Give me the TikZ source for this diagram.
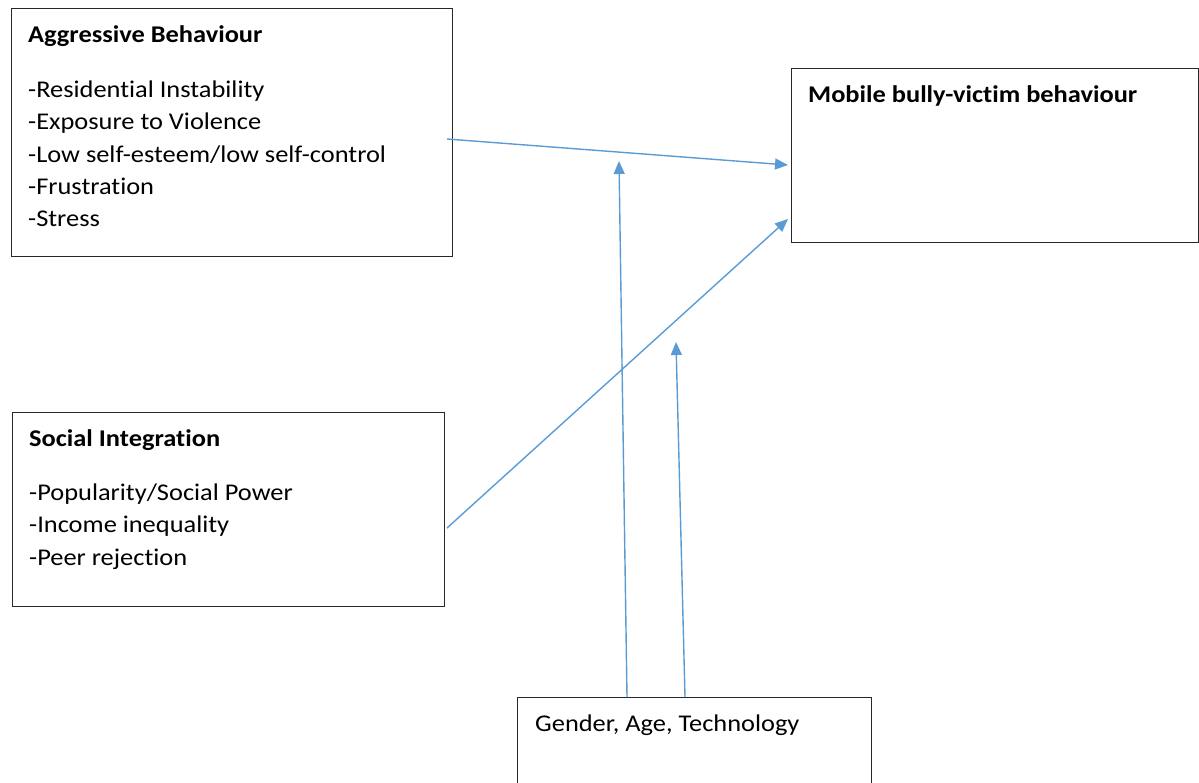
\documentclass[tikz,border=0pt]{standalone}
\usepackage{fontspec}
\setmainfont{Carlito}[FakeStretch=1.1, RawFeature={-liga;-clig;-calt;-dlig}]
\usetikzlibrary{arrows.meta}
\definecolor{linkblue}{RGB}{91,155,213}
\definecolor{framegray}{RGB}{40,40,40}
\tikzset{
  panel/.style={draw=framegray, line width=1.3pt, anchor=north west, inner sep=0pt},
  heading/.style={anchor=base west, inner sep=0pt, font=\fontsize{24}{29}\selectfont\bfseries},
  entry/.style={anchor=base west, inner sep=0pt, font=\fontsize{24}{29}\selectfont},
  link/.style={draw=linkblue, line width=1.4pt, -{Triangle[length=13pt,width=11pt]}}
}
\begin{document}
\begin{tikzpicture}[x=1pt,y=-1pt]
\useasboundingbox (0,0) rectangle (1199,782);
\clip (0,0) rectangle (1199,782);
% frames
\node[panel, minimum width=441pt, minimum height=248pt] (aggr) at (11,8) {};
\node[panel, minimum width=407pt, minimum height=174pt] (mob) at (791,68) {};
\node[panel, minimum width=432pt, minimum height=194pt] (soc) at (12,412) {};
\node[panel, minimum width=354pt, minimum height=110pt] (dem) at (517,697) {};
% aggressive behaviour
\node[heading] (aggrT) at (28,42) {Aggressive Behaviour};
\node[entry] (aggr1) at (28,97)  {-Residential Instability};
\node[entry] (aggr2) at (28,129) {-Exposure to Violence};
\node[entry] (aggr3) at (28,162) {-Low self-esteem/low self-control};
\node[entry] (aggr4) at (28,194) {-Frustration};
\node[entry] (aggr5) at (28,226) {-Stress};
% outcome
\node[heading] (mobT) at (808,102) {Mobile bully-victim behaviour};
% social integration
\node[heading] (socT) at (29,446) {Social Integration};
\node[entry] (soc1) at (29,500) {-Popularity/Social Power};
\node[entry] (soc2) at (29,532) {-Income inequality};
\node[entry] (soc3) at (29,565) {-Peer rejection};
% moderators
\node[entry] (demT) at (535,731) {Gender, Age, Technology};
% connector ends
\coordinate (a1) at (447,139);
\coordinate (m1) at (788,165);
\coordinate (s1) at (447,528);
\coordinate (m2) at (788,219);
\coordinate (d1) at (627,697);
\coordinate (t1) at (619,161);
\coordinate (d2) at (685,697);
\coordinate (t2) at (676,342);
% connectors
\draw[link] (a1) -- (m1);
\draw[link] (s1) -- (m2);
\draw[link] (d1) -- (t1);
\draw[link] (d2) -- (t2);
\end{tikzpicture}
\end{document}
